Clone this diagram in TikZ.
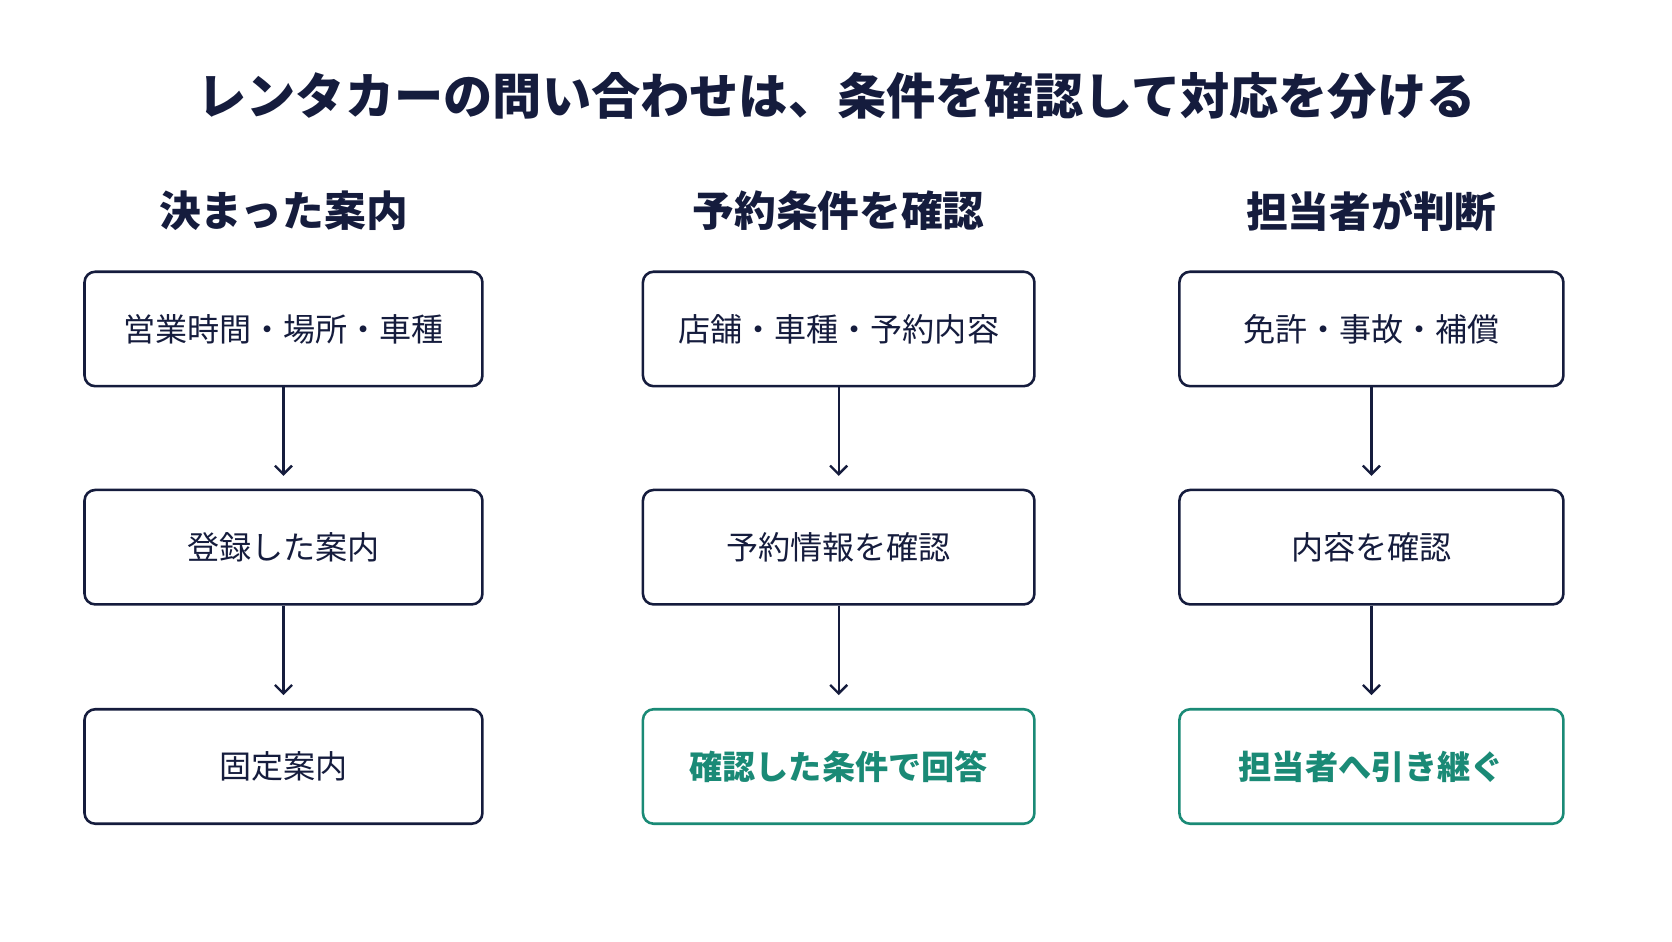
\documentclass[tikz,border=0pt]{standalone}
\usepackage{fontspec}
\setmainfont{Noto Sans CJK JP}
\usetikzlibrary{arrows.meta}
\definecolor{navy}{HTML}{151C3D}
\definecolor{teal}{HTML}{1A8A76}
\begin{document}
\begin{tikzpicture}[x=0.5pt,y=-0.5pt,
  box/.style={draw=navy,line width=1.2pt,rounded corners=5pt,minimum width=#1*0.5pt,minimum height=53.5pt,text=navy,font=\fontsize{15}{18}\selectfont},
  gbox/.style={box=#1,draw=teal,text=teal,font=\fontsize{15.5}{18}\selectfont\bfseries},
  hd/.style={text=navy,font=\fontsize{19.5}{22}\selectfont\bfseries},
  arr/.style={draw=navy,line width=1.1pt,-{Straight Barb[length=4pt,width=8pt,line width=1.1pt]}}]
\useasboundingbox (0,0) rectangle (1563,880);
\fill[white] (0,0) rectangle (1563,880);
\node[text=navy,font=\fontsize{23}{26}\selectfont\bfseries] (title) at (782,90) {レンタカーの問い合わせは、条件を確認して対応を分ける};
\node[hd] (h1) at (265,197) {決まった案内};
\node[hd] (h2) at (784,197) {予約条件を確認};
\node[hd] (h3) at (1282,197) {担当者が判断};
\node[box=372] (a1) at (265,307.5) {営業時間・場所・車種};
\node[box=372] (a2) at (265,511.5) {登録した案内};
\node[box=372] (a3) at (265,716.5) {固定案内};
\node[box=366] (b1) at (784,307.5) {店舗・車種・予約内容};
\node[box=366] (b2) at (784,511.5) {予約情報を確認};
\node[gbox=366] (b3) at (784,716.5) {確認した条件で回答};
\node[box=359] (c1) at (1282,307.5) {免許・事故・補償};
\node[box=359] (c2) at (1282,511.5) {内容を確認};
\node[gbox=359] (c3) at (1282,716.5) {担当者へ引き継ぐ};
\foreach \u/\v in {a1/a2,a2/a3,b1/b2,b2/b3,c1/c2,c2/c3}
  \draw[arr] (\u.south) -- ([yshift=6pt]\v.north);
\end{tikzpicture}
\end{document}
